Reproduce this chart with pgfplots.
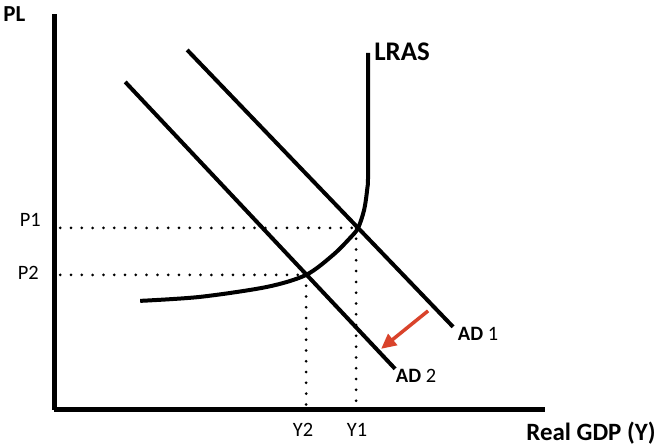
\documentclass[border=0pt]{standalone}
\usepackage{pgfplots}
\pgfplotsset{compat=1.18}
\usetikzlibrary{arrows.meta}
\usepackage{fontspec}
\setmainfont{Carlito}
\definecolor{shiftred}{HTML}{D9432B}

\begin{document}
\begin{tikzpicture}
  % coordinates are in pixels of the 660x448 frame, y measured from the bottom
  \begin{axis}[
      scale only axis,
      width=491bp, height=396bp,
      xmin=54, xmax=545,
      ymin=38, ymax=434,
      axis x line=bottom,
      axis y line=left,
      axis line style={-, line width=5bp},
      xtick=\empty, ytick=\empty,
      clip=false,
      curve/.style={black, line width=4bp},
      guide/.style={black, line width=3bp, line cap=round, dash pattern=on 0bp off 10.8bp},
    ]

    \path (axis cs:0,0) rectangle (axis cs:660,448);

    % AD 1 and AD 2
    \addplot[curve] coordinates {(187,398) (453,121)};
    \addplot[curve] coordinates {(125,366) (395,79)};

    % LRAS
    \addplot[curve, smooth] coordinates {
      (140,147) (200,151) (267,161) (306,173) (333,193) (350,210)
      (358,220) (364,238) (367,258) (368,278) (368,395)};

    % dotted guides
    \addplot[guide] coordinates {(60,220) (357,220)};
    \addplot[guide] coordinates {(60,173) (305,173)};
    \addplot[guide] coordinates {(306,173) (306,40)};
    \addplot[guide] coordinates {(356,220) (356,40)};

    % shift arrow
    \addplot[shiftred, line width=3.5bp, -{Triangle[length=15bp,width=14bp]}]
      coordinates {(428,137) (381,99)};

    % labels
    \node[font=\fontsize{23}{27}\selectfont\bfseries] at (axis cs:14,434) {PL};
    \node[font=\fontsize{27}{31}\selectfont\bfseries] at (axis cs:402,396) {LRAS};
    \node[font=\fontsize{20.5}{24}\selectfont] at (axis cs:30,228) {P1};
    \node[font=\fontsize{20.5}{24}\selectfont] at (axis cs:28,175) {P2};
    \node[font=\fontsize{20.5}{24}\selectfont] at (axis cs:303,18) {Y2};
    \node[font=\fontsize{20.5}{24}\selectfont] at (axis cs:357,18) {Y1};
    \node[font=\fontsize{25}{29}\selectfont\bfseries] at (axis cs:591,15) {Real GDP (Y)};
    \node[font=\fontsize{20.5}{24}\selectfont] at (axis cs:478,114) {\textbf{AD} 1};
    \node[font=\fontsize{20.5}{24}\selectfont] at (axis cs:416,72) {\textbf{AD} 2};
  \end{axis}
\end{tikzpicture}
\end{document}
